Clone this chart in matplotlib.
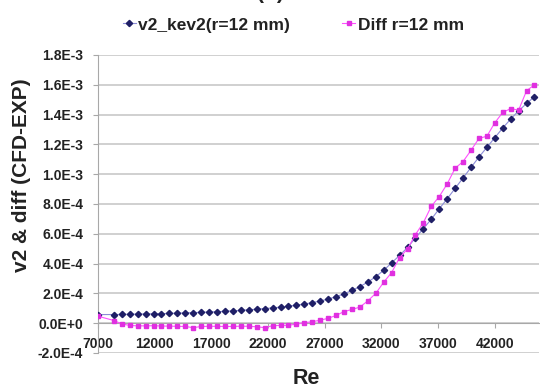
import matplotlib
matplotlib.use('Agg')
import matplotlib.pyplot as plt
from matplotlib.lines import Line2D

plt.rcParams['font.family'] = ['Liberation Sans', 'DejaVu Sans']
plt.rcParams['font.weight'] = 'bold'

# Reynolds numbers (shared by both series)
re = [7000, 8400, 9100, 9800, 10500, 11200, 11900, 12600, 13300, 14000,
      14700, 15400, 16100, 16800, 17500, 18200, 18900, 19600, 20300, 21000,
      21700, 22400, 23100, 23800, 24500, 25200, 25900, 26600, 27300, 28000,
      28700, 29400, 30100, 30800, 31500, 32200, 32900, 33600, 34300, 35000,
      35700, 36400, 37100, 37800, 38500, 39200, 39900, 40600, 41300, 42000,
      42700, 43400, 44100, 44800, 45500]

# v2_kev2 (r=12 mm), units of 1e-4
v2 = [0.58, 0.58, 0.59, 0.60, 0.61, 0.62, 0.63, 0.64, 0.66, 0.67,
      0.69, 0.71, 0.73, 0.75, 0.77, 0.80, 0.83, 0.86, 0.90, 0.94,
      0.98, 1.03, 1.08, 1.14, 1.21, 1.29, 1.38, 1.49, 1.62, 1.78,
      1.97, 2.20, 2.46, 2.76, 3.12, 3.55, 4.05, 4.55, 5.08, 5.72,
      6.35, 6.98, 7.68, 8.35, 9.05, 9.75, 10.45, 11.15, 11.80, 12.45,
      13.10, 13.70, 14.25, 14.75, 15.20]

# Diff r=12 mm (CFD-EXP), units of 1e-4
diff = [0.47, 0.18, -0.05, -0.15, -0.18, -0.18, -0.17, -0.19, -0.20, -0.21,
        -0.22, -0.30, -0.22, -0.21, -0.21, -0.22, -0.22, -0.20, -0.21, -0.24,
        -0.30, -0.17, -0.15, -0.14, -0.06, 0.03, 0.10, 0.20, 0.33, 0.52,
        0.78, 0.92, 1.08, 1.50, 2.00, 2.75, 3.40, 4.40, 4.98, 5.95,
        6.75, 7.85, 8.50, 9.35, 10.40, 10.85, 11.60, 12.40, 12.55, 13.45,
        14.15, 14.40, 14.30, 15.60, 16.00]

xticks = [7000, 12000, 17000, 22000, 27000, 32000, 37000, 42000]
yticks = [-2e-4, 0, 2e-4, 4e-4, 6e-4, 8e-4, 1e-3, 1.2e-3, 1.4e-3, 1.6e-3, 1.8e-3]
ylabels = ['-2.0E-4', '0.0E+0', '2.0E-4', '4.0E-4', '6.0E-4', '8.0E-4',
           '1.0E-3', '1.2E-3', '1.4E-3', '1.6E-3', '1.8E-3']

txt = '#222222'
navy = '#1f1f66'
mag = '#e030e0'

fig = plt.figure(figsize=(5.4, 3.9), dpi=100)
ax = fig.add_axes([0.1815, 0.0949, 0.8167, 0.7641])

ax.plot(re, [v * 1e-4 for v in v2], color='#8c8cd8', lw=0.8,
        marker='D', ms=3.2, mfc=navy, mec=navy, zorder=3)
ax.plot(re, [d * 1e-4 for d in diff], color='#ff50ff', lw=0.8,
        marker='s', ms=3.4, mfc=mag, mec=mag, zorder=4)

ax.set_xlim(7000, 45900)
ax.set_ylim(-2e-4, 1.8e-3)
ax.set_xticks(xticks)
ax.set_xticklabels([str(t) for t in xticks])
ax.set_yticks(yticks)
ax.set_yticklabels(ylabels)

ax.grid(axis='y', color='#c8c8c8', lw=1.2)
ax.set_axisbelow(True)
for s in ['top', 'right']:
    ax.spines[s].set_visible(False)
ax.spines['bottom'].set_position(('data', 0))
ax.spines['bottom'].set_color('#a8a8a8')
ax.spines['left'].set_color('#a8a8a8')
ax.tick_params(axis='both', direction='out', length=3.6, color='#a8a8a8',
               labelsize=10, labelcolor=txt)
ax.tick_params(axis='x', pad=6)
ax.tick_params(axis='y', pad=7)

fig.text(21.7 / 540, 1 - 175 / 390, 'v2 & diff (CFD-EXP)', rotation=90,
         ha='center', va='center', fontsize=15, color=txt)
fig.text(306 / 540, 1 - 379 / 390, 'Re', ha='center', va='center',
         fontsize=15.5, color=txt)
# title cut off at the top edge
fig.text(270 / 540, 1 + 1 / 390, '(b)', ha='center', va='baseline',
         fontsize=15, color=txt)

handles = [
    Line2D([], [], color='#8c8cd8', lw=0.8, marker='D', ms=3.2, mfc=navy, mec=navy),
    Line2D([], [], color='#ff50ff', lw=0.8, marker='s', ms=3.4, mfc=mag, mec=mag),
]
fig.legend(handles, ['v2_kev2(r=12 mm)', 'Diff r=12 mm'], loc='center',
           bbox_to_anchor=(293.5 / 540, 1 - 25 / 390), ncol=2, frameon=False,
           fontsize=12.5, handlelength=0.75, handletextpad=0.15,
           columnspacing=3.0, labelcolor=txt)

fig.savefig('out.png', dpi=100)
